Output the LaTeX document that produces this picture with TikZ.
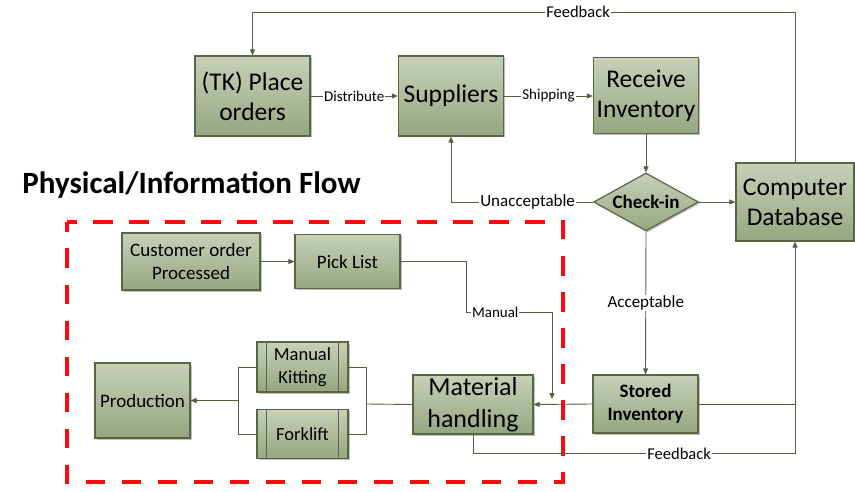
\documentclass[tikz,border=0pt]{standalone}
\usepackage{fontspec}
\setmainfont{Carlito}
\usetikzlibrary{shapes.geometric,arrows.meta,shadows,calc}

\definecolor{boxtop}{RGB}{198,209,184}
\definecolor{boxbot}{RGB}{150,166,128}
\definecolor{boxedge}{RGB}{88,102,68}
\definecolor{wire}{RGB}{84,94,64}
\definecolor{zone}{RGB}{250,12,12}

\tikzset{
  flowbox/.style={draw=boxedge, line width=1.2pt, top color=boxtop, bottom color=boxbot,
    inner sep=0pt, align=center,
    drop shadow={shadow xshift=1.5pt, shadow yshift=-1.5pt, fill=black!50, opacity=0.5}},
  procbox/.style={flowbox},
  link/.style={draw=wire, line width=0.9pt, -{Triangle[length=6pt,width=5pt]}},
  plain/.style={draw=wire, line width=0.9pt},
  lbl/.style={fill=white, inner sep=1pt, font=\fontsize{15}{15}\selectfont},
  biglbl/.style={lbl, font=\fontsize{16.5}{16.5}\selectfont},
  bigtext/.style={font=\fontsize{25.5}{30}\selectfont},
  smalltext/.style={font=\fontsize{19}{23.5}\selectfont},
}

\begin{document}
\begin{tikzpicture}[x=1pt, y=-1pt]
\useasboundingbox (0,0) rectangle (855,492);

% upper supply chain
\node[flowbox, bigtext, minimum width=115pt, minimum height=80pt] (place) at (252.5,96) {(TK) Place\\orders};
\node[flowbox, bigtext, minimum width=105pt, minimum height=80pt] (sup) at (451,96) {Suppliers};
\node[flowbox, bigtext, minimum width=105pt, minimum height=76pt] (recv) at (646,95.5) {Receive\\Inventory};
\node[flowbox, shape=diamond, minimum width=105pt, minimum height=58pt, aspect=1.8,
      font=\fontsize{19}{19}\selectfont\bfseries] (check) at (646,202) {Check-in};
\node[flowbox, bigtext, minimum width=118pt, minimum height=78pt] (db) at (795,202) {Computer\\Database};

\node[font=\fontsize{31}{31}\selectfont\bfseries] (title) at (191.5,185) {Physical/Information Flow};

% physical flow region
\draw[zone, line width=4.5pt, dash pattern=on 19.5pt off 16.5pt, dash phase=9.5pt] (67,222) rectangle (563,482);

\node[flowbox, smalltext, minimum width=138pt, minimum height=57pt] (cust) at (191,261.5) {Customer order\\Processed};
\node[flowbox, smalltext, minimum width=105pt, minimum height=54pt] (pick) at (347.5,261.5) {Pick List};
\node[flowbox, smalltext, minimum width=95pt, minimum height=75pt] (prod) at (142.5,400.5) {Production};
\node[procbox, font=\fontsize{18.5}{23.5}\selectfont, minimum width=91pt, minimum height=50pt] (kit) at (302.5,367) {Manual\\Kitting};
\node[procbox, font=\fontsize{18.5}{23.5}\selectfont, minimum width=91pt, minimum height=49pt] (fork) at (302.5,434) {Forklift};
\node[flowbox, font=\fontsize{26}{32}\selectfont, minimum width=120pt, minimum height=59pt] (mh) at (473,404.5) {Material\\handling};
\node[flowbox, font=\fontsize{19}{23}\selectfont\bfseries, minimum width=105pt, minimum height=58pt] (stored) at (645.5,404) {Stored\\Inventory};

% side bars of the process boxes
\foreach \b in {kit,fork}{
  \draw[boxedge, line width=1.2pt] ($(\b.north west)+(10,0)$) -- ($(\b.south west)+(10,0)$);
  \draw[boxedge, line width=1.2pt] ($(\b.north east)+(-10,0)$) -- ($(\b.south east)+(-10,0)$);
}

% routing points
\coordinate (fbtop) at (252.5,12);
\coordinate (mturn) at (466,312);
\coordinate (mend) at (552,399);
\coordinate (rb) at (366,404);
\coordinate (lb) at (238,400.5);

% upper connectors
\draw[link] (place.east) -- node[lbl]{Distribute} (place.east -| sup.west);
\draw[link] (sup.east) -- node[lbl]{Shipping} (sup.east -| recv.west);
\draw[link] (recv.south) -- (check.north);
\draw[link] (check.west) -| node[biglbl, pos=0.23, font=\fontsize{17}{17}\selectfont]{Unacceptable} (sup.south);
\draw[link] (check.east) -- (check.east -| db.west);
\draw[link] (check.south) -- node[biglbl, font=\fontsize{17}{17}\selectfont]{Acceptable} (stored.north);
\draw[link] (db.north) |- node[biglbl, pos=0.7]{Feedback} (fbtop) -- (place.north);

% lower connectors
\draw[link] (stored.west) -- (mh.east);
\draw[plain] (stored.east) -- (stored.east -| db.south);
\draw[link] (mh.south) -- ++(0,19) -| node[biglbl, pos=0.32]{Feedback} (db.south);
\draw[link] (cust.east) -- (cust.east -| pick.west);
\draw[link] (pick.east) -| (mturn) -- node[lbl, pos=0.34]{Manual} (mturn -| mend) -- (mend);
\draw[plain] (mh.west) -- (rb);
\draw[plain] (kit.east) -| (rb);
\draw[plain] (fork.east) -| (rb);
\draw[plain] (kit.west) -| (lb);
\draw[plain] (fork.west) -| (lb);
\draw[link] (lb) -- (lb -| prod.east);
\end{tikzpicture}
\end{document}
